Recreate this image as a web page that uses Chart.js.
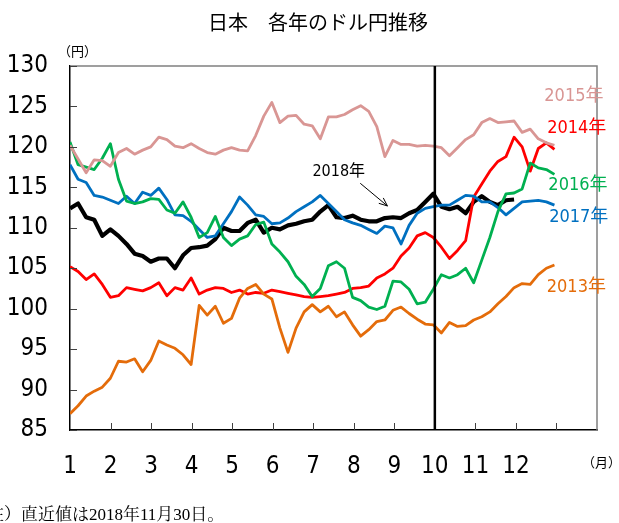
<!DOCTYPE html>
<html>
<head>
<meta charset="utf-8">
<script src="https://cdn.jsdelivr.net/npm/chart.js@4.4.1/dist/chart.umd.min.js"></script>
<style>
  html, body { margin: 0; padding: 0; background: #fff; }
  #wrap { width: 619px; height: 523px; }
</style>
</head>
<body>
<div id="wrap"><canvas id="c" width="619" height="523"></canvas></div>
<script>
// 月の目盛り（1月〜12月）
const monthLabels = ['1', '2', '3', '4', '5', '6', '7', '8', '9', '10', '11', '12'];
const yTicks = [85, 90, 95, 100, 105, 110, 115, 120, 125, 130];
const xStep = 11.95 / 60; // 約1週間ごと（月単位）

// 各年のドル円（円）
const y2013 = [87.0, 88.0, 89.2, 89.8, 90.3, 91.4, 93.5, 93.4, 93.8, 92.2, 93.6, 96.0, 95.5, 95.1, 94.3, 93.1, 100.4, 99.2, 100.3, 98.2, 98.8, 101.3, 102.5, 103.0, 101.8, 101.2, 97.6, 94.6, 97.6, 99.6, 100.5, 99.6, 100.3, 99.0, 99.6, 98.0, 96.6, 97.4, 98.4, 98.6, 99.8, 100.2, 99.4, 98.7, 98.1, 98.0, 97.0, 98.3, 97.8, 97.9, 98.6, 99.0, 99.6, 100.6, 101.5, 102.6, 103.1, 103.0, 104.2, 105.0, 105.4];
const y2014 = [105.2, 104.6, 103.6, 104.3, 103.0, 101.4, 101.6, 102.6, 102.4, 102.2, 102.6, 103.2, 101.6, 102.6, 102.3, 103.8, 101.8, 102.3, 102.6, 102.5, 102.0, 102.3, 101.8, 102.0, 101.9, 102.3, 102.1, 101.9, 101.7, 101.5, 101.4, 101.5, 101.6, 101.8, 102.0, 102.5, 102.6, 102.8, 103.8, 104.3, 105.0, 106.5, 107.5, 109.0, 109.4, 108.8, 107.6, 106.2, 107.2, 108.4, 113.8, 115.4, 117.0, 118.2, 118.8, 121.2, 120.0, 117.0, 119.8, 120.5, 119.7];
const y2015 = [120.2, 118.5, 116.8, 118.4, 118.3, 117.6, 119.3, 119.8, 119.1, 119.6, 120.0, 121.2, 120.9, 120.1, 119.9, 120.4, 119.8, 119.3, 119.1, 119.6, 119.9, 119.6, 119.5, 121.4, 123.8, 125.5, 123.0, 123.8, 123.9, 122.8, 122.6, 121.0, 123.7, 123.7, 124.0, 124.6, 125.1, 124.4, 122.5, 118.8, 120.8, 120.3, 120.3, 120.1, 120.2, 120.1, 119.9, 118.9, 119.9, 120.9, 121.5, 123.0, 123.5, 123.0, 123.1, 123.2, 121.8, 122.2, 121.0, 120.5, 120.2];
const y2016 = [120.6, 117.8, 117.5, 117.2, 118.6, 120.4, 116.0, 113.3, 113.0, 113.2, 113.6, 113.5, 112.2, 111.8, 113.2, 111.3, 108.8, 109.4, 111.4, 108.8, 107.8, 108.6, 109.0, 110.4, 110.7, 108.0, 107.0, 105.8, 104.0, 103.0, 101.5, 102.5, 105.3, 105.8, 105.0, 101.4, 101.0, 100.2, 99.9, 100.3, 103.4, 103.3, 102.4, 100.6, 100.8, 102.4, 104.2, 103.8, 104.2, 105.0, 103.2, 106.0, 108.8, 112.0, 114.2, 114.3, 114.8, 118.0, 117.4, 117.2, 116.6];
const y2017 = [117.8, 116.0, 115.6, 114.0, 113.8, 113.4, 113.0, 113.9, 113.0, 114.4, 114.0, 114.9, 113.5, 111.6, 111.5, 110.8, 109.8, 108.8, 109.0, 110.5, 112.0, 113.8, 112.8, 111.6, 111.4, 110.5, 110.6, 111.2, 112.0, 112.6, 113.2, 114.0, 113.0, 112.0, 111.0, 110.6, 110.3, 109.8, 109.3, 110.2, 110.0, 108.0, 110.3, 111.8, 112.4, 112.6, 112.8, 112.8, 113.4, 114.0, 113.9, 113.2, 113.2, 112.5, 111.6, 112.4, 113.2, 113.3, 113.4, 113.2, 112.8];
const y2018 = [112.4, 113.0, 111.3, 111.0, 109.0, 109.8, 109.0, 108.0, 106.8, 106.5, 105.8, 106.2, 106.2, 105.0, 106.6, 107.5, 107.6, 107.8, 108.6, 110.0, 109.6, 109.6, 110.6, 111.0, 109.4, 110.0, 109.8, 110.3, 110.5, 110.8, 111.0, 112.0, 112.8, 111.3, 111.2, 111.5, 111.0, 110.8, 110.8, 111.2, 111.3, 111.2, 111.8, 112.2, 113.2, 114.2, 112.6, 112.3, 112.6, 111.8, 113.2, 113.9, 113.2, 112.8, 113.4, 113.5];

const markerMonth = 9; // 10月の縦線

const colors = {
    y2013: '#E46C0A',
    y2014: '#FF0000',
    y2015: '#D99694',
    y2016: '#00B050',
    y2017: '#0070C0',
    y2018: '#000000'
};

const narrow = "'Liberation Sans Narrow', 'DejaVu Sans Condensed', 'Noto Sans CJK JP', sans-serif";
const cjk = "'Noto Sans CJK JP', sans-serif";

// 系列ラベル（データ座標）
const seriesLabels = [
    { text: '2015年', color: colors.y2015, m: 11.7, v: 126.3 },
    { text: '2014年', color: colors.y2014, m: 11.77, v: 122.3 },
    { text: '2016年', color: colors.y2016, m: 11.8, v: 115.2 },
    { text: '2017年', color: colors.y2017, m: 11.82, v: 111.3 },
    { text: '2013年', color: colors.y2013, m: 11.76, v: 102.6 },
    { text: '2018年', color: '#000000', m: 5.98, v: 116.9 }
];
const arrow2018 = { from: [7.16, 115.5], to: [7.83, 112.7] };

function toPoints(values) {
    return values.map((v, i) => ({ x: i * xStep, y: v }));
}

function makeSet(label, values, color, width) {
    return {
        label: label,
        data: toPoints(values),
        borderColor: color,
        backgroundColor: color,
        borderWidth: width,
        pointRadius: 0,
        tension: 0,
        fill: false,
        borderJoinStyle: 'round'
    };
}

const overlay = {
    id: 'overlay',
    afterDatasetsDraw(chart) {
        const { ctx, chartArea: a, scales: { x, y } } = chart;
        ctx.save();

        // 上と右の枠
        ctx.strokeStyle = '#808080';
        ctx.lineWidth = 1.5;
        ctx.beginPath();
        ctx.moveTo(a.left, a.top);
        ctx.lineTo(a.right, a.top);
        ctx.lineTo(a.right, a.bottom);
        ctx.stroke();

        // 内向きの目盛り
        ctx.strokeStyle = '#404040';
        ctx.lineWidth = 1;
        yTicks.forEach(v => {
            const py = Math.round(y.getPixelForValue(v)) + 0.5;
            ctx.beginPath();
            ctx.moveTo(a.left, py);
            ctx.lineTo(a.left + 7, py);
            ctx.stroke();
        });
        for (let m = 1; m <= 12; m++) {
            const px = Math.round(x.getPixelForValue(m)) + 0.5;
            ctx.beginPath();
            ctx.moveTo(px, a.bottom);
            ctx.lineTo(px, a.bottom - 7);
            ctx.stroke();
        }

        // 10月の縦線
        const mx = x.getPixelForValue(markerMonth);
        ctx.strokeStyle = '#000';
        ctx.lineWidth = 2.5;
        ctx.beginPath();
        ctx.moveTo(mx, a.top);
        ctx.lineTo(mx, a.bottom);
        ctx.stroke();

        // 系列ラベル
        ctx.textAlign = 'left';
        ctx.textBaseline = 'middle';
        seriesLabels.forEach(l => {
            ctx.fillStyle = l.color;
            ctx.font = l.text === '2018年' ? '16px ' + narrow : '18px ' + narrow;
            ctx.fillText(l.text, x.getPixelForValue(l.m), y.getPixelForValue(l.v));
        });

        // 2018年の矢印
        const x0 = x.getPixelForValue(arrow2018.from[0]);
        const y0 = y.getPixelForValue(arrow2018.from[1]);
        const x1 = x.getPixelForValue(arrow2018.to[0]);
        const y1 = y.getPixelForValue(arrow2018.to[1]);
        const ang = Math.atan2(y1 - y0, x1 - x0);
        ctx.strokeStyle = '#000';
        ctx.lineWidth = 1;
        ctx.beginPath();
        ctx.moveTo(x0, y0);
        ctx.lineTo(x1, y1);
        ctx.moveTo(x1, y1);
        ctx.lineTo(x1 - 9 * Math.cos(ang - 0.4), y1 - 9 * Math.sin(ang - 0.4));
        ctx.moveTo(x1, y1);
        ctx.lineTo(x1 - 9 * Math.cos(ang + 0.4), y1 - 9 * Math.sin(ang + 0.4));
        ctx.stroke();

        ctx.restore();
    },
    afterDraw(chart) {
        const { ctx, chartArea: a } = chart;
        ctx.save();
        ctx.fillStyle = '#000';
        ctx.textBaseline = 'middle';

        // タイトル
        ctx.textAlign = 'center';
        ctx.font = '20px ' + cjk;
        ctx.fillText('日本　各年のドル円推移', 318, 22);

        ctx.textAlign = 'left';
        ctx.font = '13px ' + cjk;
        ctx.fillText('（円）', a.left - 12, 51);
        ctx.fillText('（月）', 582, 462);
        ctx.font = "17px 'Liberation Serif', 'Noto Serif CJK JP', 'Noto Sans CJK JP', serif";
        ctx.fillText('（注）直近値は2018年11月30日。', -30, 516);
        ctx.restore();
    }
};

new Chart(document.getElementById('c'), {
    type: 'line',
    data: {
        datasets: [
            makeSet('2013年', y2013, colors.y2013, 2.8),
            makeSet('2015年', y2015, colors.y2015, 2.8),
            makeSet('2016年', y2016, colors.y2016, 2.8),
            makeSet('2017年', y2017, colors.y2017, 2.8),
            makeSet('2014年', y2014, colors.y2014, 2.8),
            makeSet('2018年', y2018, colors.y2018, 4.2)
        ]
    },
    options: {
        responsive: false,
        animation: false,
        events: [],
        layout: { padding: { top: 66, right: 19, bottom: 0, left: 0 } },
        plugins: {
            legend: { display: false },
            tooltip: { enabled: false },
            title: { display: false }
        },
        scales: {
            x: {
                type: 'linear',
                min: 0,
                max: 13,
                grid: { display: false, drawTicks: false },
                border: { display: true, color: '#000', width: 1.5 },
                ticks: {
                    stepSize: 1,
                    autoSkip: false,
                    maxRotation: 0,
                    padding: 22,
                    color: '#000',
                    font: { family: narrow, size: 24 },
                    callback: v => monthLabels[v] || ''
                },
                afterFit: s => { s.height = 93; }
            },
            y: {
                min: 85,
                max: 130,
                grid: { display: false, drawTicks: false },
                border: { display: true, color: '#000', width: 1.5 },
                ticks: {
                    stepSize: 5,
                    padding: 22,
                    color: '#000',
                    font: { family: narrow, size: 24 }
                },
                afterFit: s => { s.width = 70; }
            }
        }
    },
    plugins: [overlay]
});
</script>
</body>
</html>
